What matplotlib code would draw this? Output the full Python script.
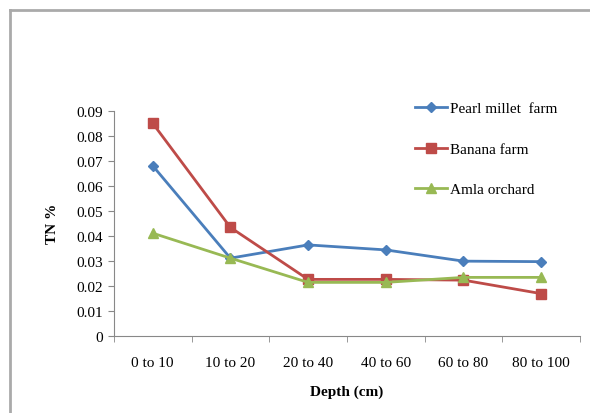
import numpy as np
import matplotlib.pyplot as plt
from matplotlib.lines import Line2D

plt.rcParams['font.family'] = ['Liberation Serif', 'DejaVu Serif']

depths = ['0 to 10', '10 to 20', '20 to 40', '40 to 60', '60 to 80', '80 to 100']
pearl_millet = [0.068, 0.031, 0.0363, 0.0343, 0.0298, 0.0296]
banana = [0.085, 0.0433, 0.0225, 0.0225, 0.0222, 0.0168]
amla = [0.041, 0.031, 0.0213, 0.0213, 0.0233, 0.0233]
yticks = [0, 0.01, 0.02, 0.03, 0.04, 0.05, 0.06, 0.07, 0.08, 0.09]

fig = plt.figure(figsize=(5.9, 4.14), dpi=100)
ax = fig.add_axes([0.193, 0.187, 0.790, 0.543])

x = np.arange(len(depths))
ax.plot(x, pearl_millet, color='#4A7EBB', marker='D', markersize=5, lw=2, label='Pearl millet  farm')
ax.plot(x, banana, color='#BE4B48', marker='s', markersize=7, lw=2, label='Banana farm')
ax.plot(x, amla, color='#98B954', marker='^', markersize=7, lw=2, label='Amla orchard')

ax.set_xlim(-0.5, len(depths) - 0.5)
ax.set_ylim(0, 0.09)
ax.set_yticks(yticks)
ax.set_yticklabels(['0'] + ['%.2f' % v for v in yticks[1:]], fontsize=11)
ax.set_xticks(x)
ax.set_xticklabels(depths, fontsize=11)
ax.tick_params(axis='x', length=0, pad=15)
ax.set_xticks(np.arange(-0.5, len(depths)), minor=True)
ax.tick_params(axis='x', which='minor', length=4, color='#888888')
ax.tick_params(axis='y', length=4, color='#888888', pad=4)

for s in ['top', 'right']:
    ax.spines[s].set_visible(False)
for s in ['left', 'bottom']:
    ax.spines[s].set_color('#888888')

ax.set_ylabel('TN %', fontsize=11, fontweight='bold', labelpad=12)
ax.set_xlabel('Depth (cm)', fontsize=11, fontweight='bold', labelpad=11)

fig.legend(loc='upper left', bbox_to_anchor=(0.68, 0.785), frameon=False,
           fontsize=11, labelspacing=1.75, handlelength=2.1, handletextpad=0.2)

# outer chart frame
fig.add_artist(Line2D([10/590, 10/590], [0, 1 - 11/414], color='#AAAAAA', lw=2, transform=fig.transFigure))
fig.add_artist(Line2D([10/590, 1], [1 - 11/414, 1 - 11/414], color='#AAAAAA', lw=2, transform=fig.transFigure))

fig.savefig('out.png', dpi=100)
